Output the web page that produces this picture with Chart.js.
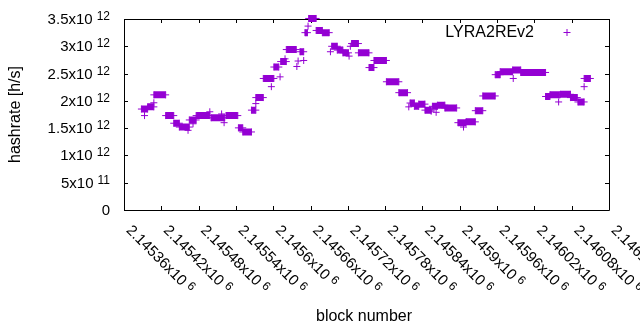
<!DOCTYPE html>
<html>
<head>
<meta charset="utf-8">
<script src="https://cdn.jsdelivr.net/npm/chart.js@4"></script>
<style>
  body { margin: 0; background: #fff; }
  #wrap { width: 640px; height: 330px; }
</style>
</head>
<body>
<div id="wrap"><canvas id="hashChart"></canvas></div>
<script>
// runs of consecutive blocks sharing one hashrate estimate (values in 1e12 h/s)
const runStart = [2145388, 2145398, 2145408, 2145427, 2145440, 2145449, 2145465, 2145476, 2145500, 2145524,
                  2145544, 2145551, 2145565, 2145572, 2145584, 2145601, 2145612, 2145621, 2145643, 2145651,
                  2145657, 2145669, 2145679, 2145694, 2145703, 2145712, 2145726, 2145737, 2145754, 2145762,
                  2145782, 2145802, 2145820, 2145827, 2145834, 2145844, 2145856, 2145864, 2145876, 2145897,
                  2145910, 2145925, 2145937, 2145957, 2145965, 2145985, 2145998, 2146038, 2146045, 2146062,
                  2146078, 2146090, 2146100];
const runEnd   = [2145398, 2145408, 2145427, 2145440, 2145449, 2145465, 2145476, 2145498, 2145522, 2145543,
                  2145551, 2145565, 2145572, 2145584, 2145601, 2145609, 2145621, 2145637, 2145649, 2145655,
                  2145669, 2145679, 2145690, 2145703, 2145712, 2145721, 2145737, 2145754, 2145762, 2145782,
                  2145802, 2145816, 2145827, 2145834, 2145844, 2145854, 2145864, 2145876, 2145895, 2145910,
                  2145925, 2145937, 2145957, 2145965, 2145985, 2145998, 2146038, 2146045, 2146061, 2146078,
                  2146089, 2146100, 2146110];
const runValue = [1.85, 1.89, 2.11, 1.73, 1.59, 1.52, 1.65, 1.73, 1.69, 1.73,
                  1.505, 1.43, 1.83, 2.06, 2.41, 2.62, 2.72, 2.94, 2.90, 3.25,
                  3.51, 3.29, 3.25, 3.00, 2.93, 2.88, 3.05, 2.88, 2.61, 2.74,
                  2.35, 2.15, 1.96, 1.90, 1.94, 1.83, 1.90, 1.92, 1.87, 1.60,
                  1.615, 1.82, 2.09, 2.48, 2.535, 2.565, 2.52, 2.08, 2.11, 2.12,
                  2.06, 1.98, 2.41];

// isolated samples off the runs
const pointBlock = [2145393, 2145408, 2145463, 2145471, 2145498, 2145517, 2145521, 2145572, 2145597, 2145611,
                    2145619, 2145638, 2145640, 2145649, 2145656, 2145692, 2145722, 2145724, 2145818, 2145854,
                    2145862, 2145906, 2145986, 2146059, 2146100];
const pointValue = [1.73, 1.965, 1.46, 1.58, 1.80, 1.76, 1.60, 1.95, 2.26, 2.44,
                    2.77, 2.63, 2.73, 2.74, 3.37, 2.90, 2.82, 3.00, 1.89, 1.81,
                    1.79, 1.52, 2.41, 1.98, 2.26];

// tick labels
const xTickValues = [2145360, 2145420, 2145480, 2145540, 2145600, 2145660, 2145720,
                     2145780, 2145840, 2145900, 2145960, 2146020, 2146080, 2146140];
const yTickValues = [0, 5e11, 1e12, 1.5e12, 2e12, 2.5e12, 3e12, 3.5e12];

const PURPLE = '#9400d3';
const FAMILY = '"Liberation Sans", Arial, sans-serif';
const FONT = '15px ' + FAMILY;
const TITLE_FONT = '16px ' + FAMILY;
const SUP = '12px ' + FAMILY;

const runData = [];
for (let i = 0; i < runStart.length; i++) {
    runData.push({x: runStart[i], y: runValue[i] * 1e12});
    runData.push({x: runEnd[i], y: runValue[i] * 1e12});
    runData.push({x: runEnd[i], y: null}); // break between runs
}
const pointData = pointBlock.map((b, i) => ({x: b, y: pointValue[i] * 1e12}));

// split 3.5e12 -> ["3.5x10", "12"]
function sciParts(v) {
    if (v === 0) return ["0", ""];
    const e = Math.floor(Math.log10(v));
    const m = parseFloat((v / Math.pow(10, e)).toFixed(5));
    return [m + "x10", String(e)];
}

// gnuplot-ish frame, inward ticks and labels
const gnuplotLook = {
    id: 'gnuplotLook',
    beforeDatasetsDraw(chart) {
        const {ctx, chartArea: a, scales: {x, y}} = chart;
        ctx.save();
        ctx.strokeStyle = '#000';
        ctx.lineWidth = 1;
        ctx.beginPath();
        ctx.rect(a.left + 0.5, a.top + 0.5, a.right - a.left, a.bottom - a.top);
        xTickValues.forEach(v => {
            const px = Math.round(x.getPixelForValue(v)) + 0.5;
            ctx.moveTo(px, a.bottom); ctx.lineTo(px, a.bottom - 4);
            ctx.moveTo(px, a.top); ctx.lineTo(px, a.top + 4);
        });
        yTickValues.forEach(v => {
            const py = Math.round(y.getPixelForValue(v)) + 0.5;
            ctx.moveTo(a.left, py); ctx.lineTo(a.left + 4, py);
            ctx.moveTo(a.right, py); ctx.lineTo(a.right - 4, py);
        });
        ctx.stroke();
        ctx.restore();
    },
    afterDraw(chart) {
        const {ctx, chartArea: a, scales: {x, y}} = chart;
        ctx.save();
        ctx.fillStyle = '#000';
        ctx.textBaseline = 'alphabetic';

        // y tick labels
        yTickValues.forEach(v => {
            const py = y.getPixelForValue(v);
            const [base, exp] = sciParts(v);
            let right = 110;
            ctx.textAlign = 'right';
            if (exp) {
                ctx.font = SUP;
                ctx.fillText(exp, right, py + 1);
                right -= ctx.measureText(exp).width + 4;
            }
            ctx.font = FONT;
            ctx.fillText(base, right, py + 5);
        });

        // x tick labels, rotated down-right
        xTickValues.forEach(v => {
            const px = x.getPixelForValue(v);
            const [base, exp] = sciParts(v);
            ctx.save();
            ctx.translate(px + 1.5, 231);
            ctx.rotate(Math.PI / 4);
            ctx.textAlign = 'left';
            ctx.font = FONT;
            ctx.fillText(base, 0, 0);
            const w = ctx.measureText(base).width;
            ctx.font = SUP;
            ctx.fillText(exp, w + 4, -4);
            ctx.restore();
        });

        // axis titles
        ctx.font = TITLE_FONT;
        ctx.textAlign = 'center';
        ctx.fillText('block number', 364, 321);
        ctx.save();
        ctx.translate(20, (a.top + a.bottom) / 2);
        ctx.rotate(-Math.PI / 2);
        ctx.fillText('hashrate [h/s]', 0, 0);
        ctx.restore();

        // key inside the plot
        ctx.textAlign = 'right';
        ctx.fillText(chart.data.datasets[0].label, 534, 37);
        ctx.strokeStyle = PURPLE;
        ctx.lineWidth = 1;
        ctx.beginPath();
        ctx.moveTo(563.5, 32.5); ctx.lineTo(570.5, 32.5);
        ctx.moveTo(567, 29); ctx.lineTo(567, 36);
        ctx.stroke();
        ctx.restore();
    }
};

new Chart(document.getElementById('hashChart'), {
    type: 'scatter',
    data: {
        datasets: [{
            label: 'LYRA2REv2',
            data: pointData,
            pointStyle: 'cross',
            pointRadius: 3.5,
            pointHoverRadius: 3.5,
            pointBorderWidth: 1,
            borderColor: PURPLE,
            backgroundColor: PURPLE,
            clip: false
        }, {
            label: 'runs',
            data: runData,
            showLine: true,
            spanGaps: false,
            borderWidth: 7,
            borderCapStyle: 'butt',
            borderColor: PURPLE,
            backgroundColor: PURPLE,
            pointStyle: 'cross',
            pointRadius: 3.5,
            pointHoverRadius: 3.5,
            pointBorderWidth: 1,
            tension: 0,
            clip: false
        }]
    },
    options: {
        responsive: true,
        maintainAspectRatio: false,
        animation: false,
        events: [],
        layout: { padding: { top: 19, right: 31, left: 0, bottom: 0 } },
        plugins: {
            legend: { display: false },
            tooltip: { enabled: false }
        },
        scales: {
            x: {
                type: 'linear',
                min: 2145360,
                max: 2146140,
                ticks: { display: false },
                grid: { display: false },
                border: { display: false },
                afterFit: s => { s.height = 120; }
            },
            y: {
                min: 0,
                max: 3.5e12,
                ticks: { display: false },
                grid: { display: false },
                border: { display: false },
                afterFit: s => { s.width = 124; }
            }
        }
    },
    plugins: [gnuplotLook]
});
</script>
</body>
</html>
